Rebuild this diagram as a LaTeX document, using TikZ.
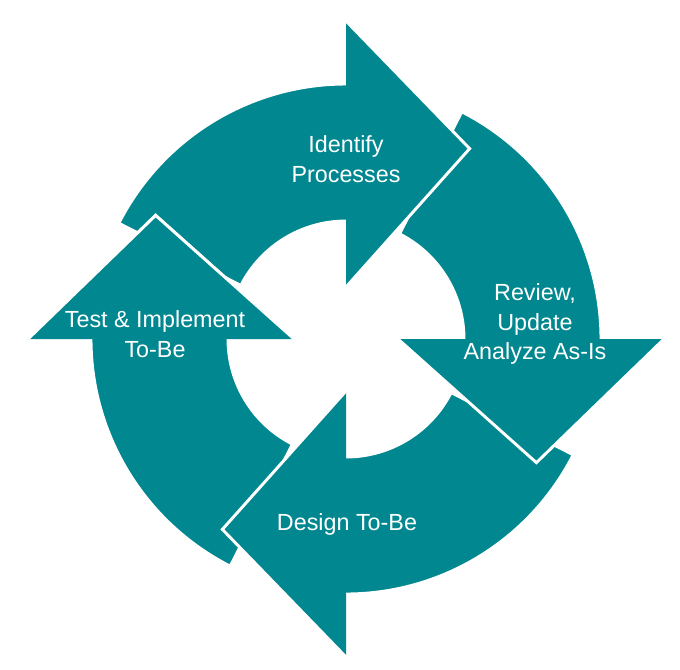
\documentclass[tikz,border=0pt]{standalone}
\usepackage{fontspec}
\setmainfont{Liberation Sans}
\usetikzlibrary{positioning}
\definecolor{teal}{HTML}{00878F}
\begin{document}
\begin{tikzpicture}[x=0.75pt,y=0.75pt,% one unit = one pixel of the reference
					every node/.style={
						align=center,		% "\\" breaks lines
						text=white,
						font=\fontsize{17.5}{22}\selectfont
						},
					segment/.style={fill=teal,draw=white,line width=2.2pt,line join=miter}
					]
\useasboundingbox (-346,-330) rectangle (334,339);
% four arrows of the cycle, each turned a quarter
\foreach \turn in {0,-90,-180,-270}{
\path[segment,rotate=\turn] (153:255) arc[start angle=153,end angle=90,radius=255]
	-- (0,318) -- (57:227) -- (0,52) -- (0,118)
	arc[start angle=90,end angle=153,radius=118] -- cycle;
}
% heads again, over the tail of the next arrow
\foreach \turn in {0,-90,-180,-270}{
\path[segment,rotate=\turn] (0,318) -- (57:227) -- (0,52);
}
\node (identify) at (0,180) {Identify\\Processes};
\node (review) at (189,15) {Review,\\Update\\Analyze As-Is};
\node (design) at (1,-185) {Design To-Be};
\node (test) at (-191,5) {Test \& Implement\\To-Be};
\end{tikzpicture}
\end{document}
